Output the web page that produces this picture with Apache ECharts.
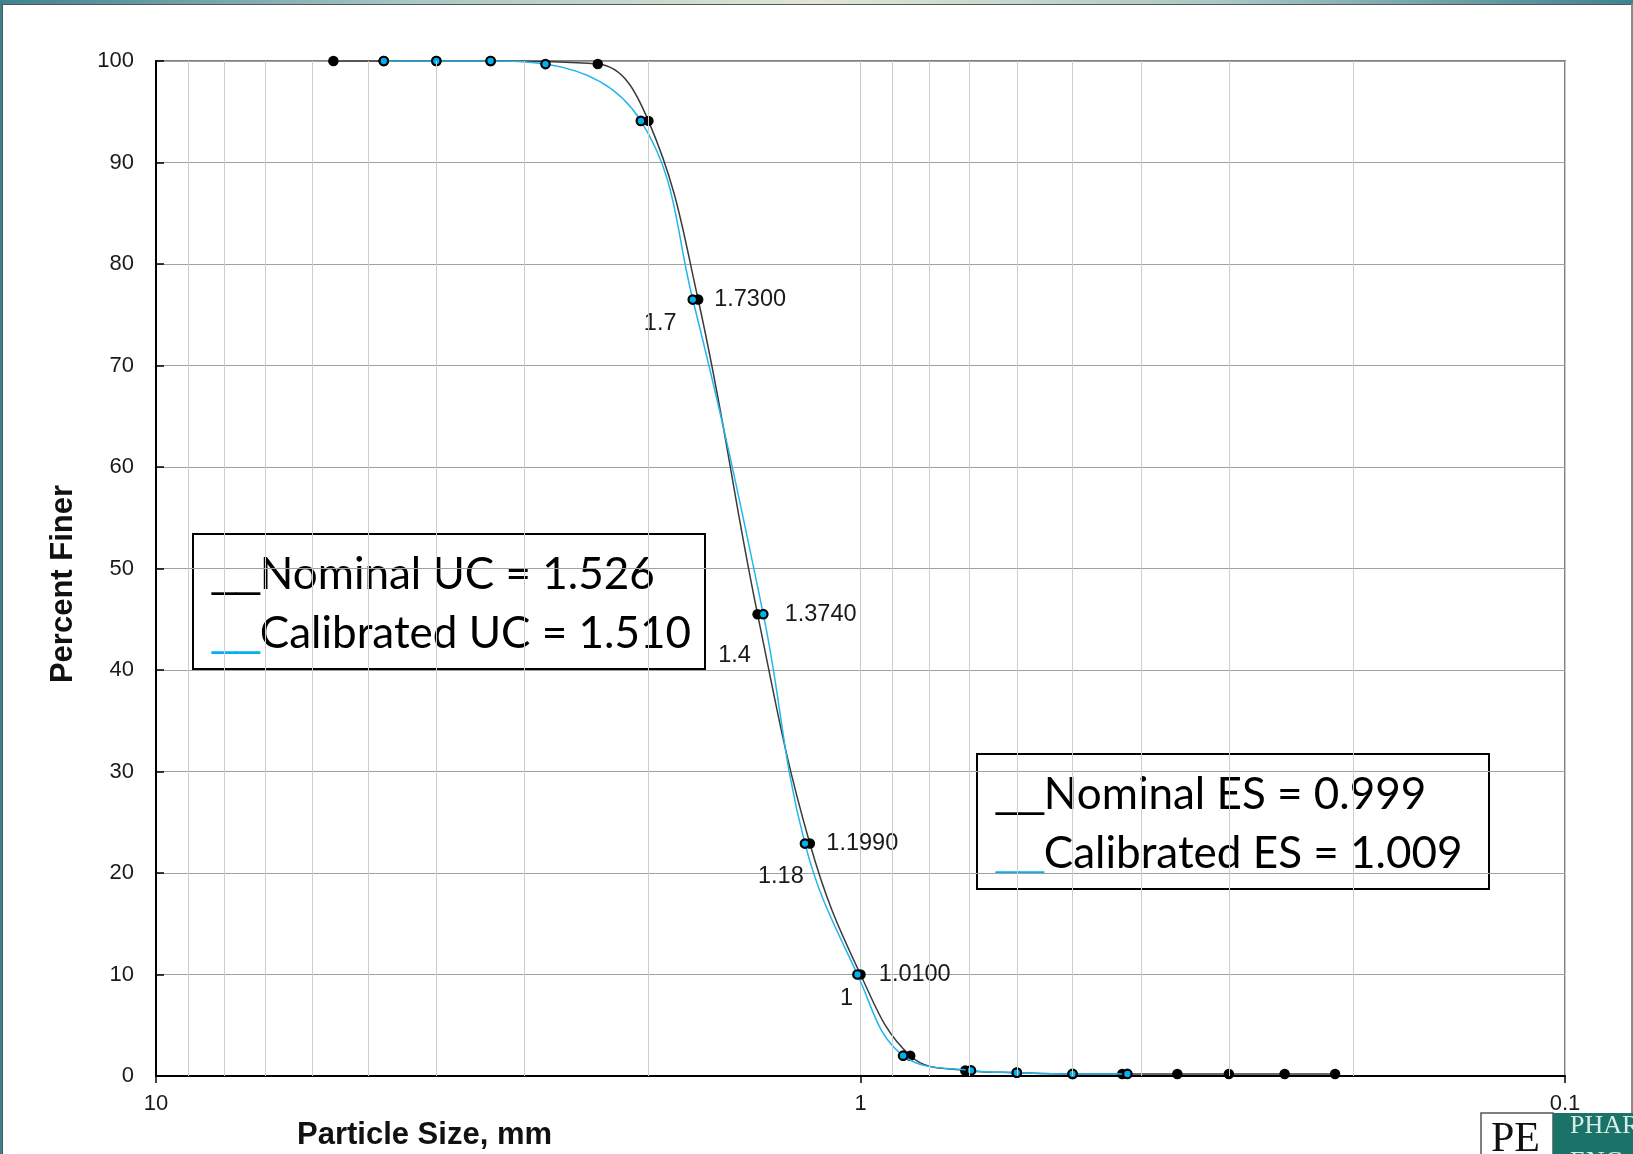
<!DOCTYPE html>
<html>
<head>
<meta charset="utf-8">
<script src="https://cdn.jsdelivr.net/npm/echarts@6/dist/echarts.min.js"></script>
<style>
html,body{margin:0;padding:0;background:#fff;}
#chart{width:1633px;height:1154px;}
</style>
</head>
<body>
<div id="chart"></div>
<script>
// ---- data ----
const nominalSize   = [5.6, 4.75, 4.0, 3.35, 2.36, 2.0, 1.7, 1.4, 1.18, 1.0, 0.85, 0.71, 0.6, 0.5, 0.425, 0.355, 0.3, 0.25, 0.212];
const nominalFiner  = [100, 100, 100, 100, 99.7, 94.1, 76.5, 45.5, 22.9, 10.0, 2.0, 0.55, 0.33, 0.2, 0.2, 0.2, 0.2, 0.2, 0.2];
const calibratedSize  = [4.75, 4.0, 3.35, 2.8, 2.05, 1.73, 1.374, 1.199, 1.01, 0.87, 0.697, 0.6, 0.5, 0.418];
const calibratedFiner = [100, 100, 100, 99.7, 94.1, 76.5, 45.5, 22.9, 10.0, 2.0, 0.55, 0.33, 0.2, 0.2];
const labeledNominal    = [1.7, 1.4, 1.18, 1.0];
const labeledCalibrated = [1.73, 1.374, 1.199, 1.01];
const xTickLabels = ['10', '1', '0.1'];
const yTickValues = [0, 10, 20, 30, 40, 50, 60, 70, 80, 90, 100];
const minorGridSizes = [9, 8, 7, 6, 5, 4, 3, 2, 0.9, 0.8, 0.7, 0.6, 0.5, 0.4, 0.3, 0.2];
const legendUC = ['Nominal UC = 1.526', 'Calibrated UC = 1.510'];
const legendES = ['Nominal ES = 0.999', 'Calibrated ES = 1.009'];
const xAxisTitle = 'Particle Size, mm';
const yAxisTitle = 'Percent Finer';

// ---- layout / style (not data) ----
const nominalLabelOffsets = [[-38, 24], [-23, 41], [-29, 33], [-14, 24]];
const BLUE = '#00b0f0';
const TXT = '#1a1a1a';
const SANS = 'Liberation Sans, Arial, sans-serif';

const chart = echarts.init(document.getElementById('chart'), null, {renderer: 'canvas'});

const nominalData = nominalSize.map((s, i) => {
  const item = {value: [s, nominalFiner[i]]};
  const k = labeledNominal.indexOf(s);
  if (k >= 0) {
    item.label = {show: true, position: 'inside', offset: nominalLabelOffsets[k]};
  }
  return item;
});
const calibratedData = calibratedSize.map((s, i) => {
  const item = {value: [s, calibratedFiner[i]]};
  if (labeledCalibrated.indexOf(s) >= 0) {
    item.label = {show: true, position: 'right', distance: 16};
  }
  return item;
});

function legendBox(x, y, lines) {
  const rich = {
    k: {fill: '#000', fontSize: 43, fontFamily: 'Liberation Sans'},
    c: {fill: BLUE, fontSize: 43, fontFamily: 'Liberation Sans'},
    t: {fill: '#000', fontSize: 44, fontFamily: 'Lato'}
  };
  return {
    type: 'group', x: x, y: y, z: 50,
    children: [
      {type: 'rect', shape: {x: 0, y: 0, width: 512, height: 135},
       style: {fill: '#fff', stroke: '#000', lineWidth: 2}},
      {type: 'text', x: 19, y: 41,
       style: {text: '{k|__}{t|' + lines[0] + '}', rich: rich, fill: '#000', fontSize: 44, fontFamily: 'Lato', verticalAlign: 'middle'}},
      {type: 'text', x: 19, y: 100,
       style: {text: '{c|__}{t|' + lines[1] + '}', rich: rich, fill: '#000', fontSize: 44, fontFamily: 'Lato', verticalAlign: 'middle'}}
    ]
  };
}

const option = {
  backgroundColor: '#ffffff',
  animation: false,
  grid: {left: 156, right: 68, top: 61, bottom: 78, show: true, borderColor: '#808080', borderWidth: 2,
         backgroundColor: 'transparent', containLabel: false, outerBoundsMode: 'none'},
  xAxis: {
    type: 'log', logBase: 10, min: 0.1, max: 10, inverse: true,
    name: xAxisTitle, nameLocation: 'middle', nameGap: 19,
    nameTextStyle: {fontSize: 31, fontWeight: 'bold', color: '#111', fontFamily: SANS, padding: [0, 872, 0, 0]},
    axisLine: {show: true, onZero: false, lineStyle: {color: '#000', width: 2}},
    axisTick: {show: true, inside: false, length: 7, lineStyle: {color: '#000', width: 1.5}},
    axisLabel: {show: true, margin: 17, fontSize: 22, color: TXT, fontFamily: SANS,
                formatter: function (v) { const e = Math.round(Math.log10(v)); return xTickLabels[1 - e]; }},
    splitLine: {show: true, lineStyle: {color: '#c8c8c8', width: 1}},
    minorTick: {show: false}, minorSplitLine: {show: false}
  },
  yAxis: {
    type: 'value', min: 0, max: 100, interval: 10,
    name: yAxisTitle, nameLocation: 'middle', nameGap: 77,
    nameTextStyle: {fontSize: 31, fontWeight: 'bold', color: '#111', fontFamily: SANS, padding: [0, 31, 0, 0]},
    axisLine: {show: true, lineStyle: {color: '#000', width: 2}},
    axisTick: {show: true, inside: true, length: 8, lineStyle: {color: '#000', width: 1.5}},
    axisLabel: {show: true, margin: 22, fontSize: 22, color: TXT, fontFamily: SANS,
                formatter: function (v) { return yTickValues.indexOf(v) >= 0 ? String(v) : ''; }},
    splitLine: {show: true, lineStyle: {color: '#a0a0a0', width: 1.2}}
  },
  series: [
    {
      name: 'minor grid', type: 'line', data: [], z: 1, silent: true,
      markLine: {
        silent: true, animation: false, symbol: ['none', 'none'],
        label: {show: false},
        lineStyle: {color: '#cdcdcd', width: 1, type: 'solid'},
        emphasis: {disabled: true},
        data: minorGridSizes.map(v => ({xAxis: v}))
      }
    },
    {
      name: 'Nominal', type: 'line', smooth: 0.4, z: 3,
      data: nominalData,
      symbol: 'circle', symbolSize: 10.5, showAllSymbol: true,
      itemStyle: {color: '#000'},
      lineStyle: {color: '#3a3a3a', width: 1.5},
      label: {show: false, fontSize: 23.5, color: TXT, fontFamily: SANS,
              formatter: p => String(p.value[0])},
      emphasis: {disabled: true}
    },
    {
      name: 'Calibrated', type: 'line', smooth: 0.4, z: 4,
      data: calibratedData,
      symbol: 'circle', symbolSize: 8.5, showAllSymbol: true,
      itemStyle: {color: BLUE, borderColor: '#000', borderWidth: 2.2},
      lineStyle: {color: '#22b6ef', width: 1.5},
      label: {show: false, fontSize: 23.5, color: TXT, fontFamily: SANS,
              formatter: p => p.value[0].toFixed(4)},
      emphasis: {disabled: true}
    }
  ],
  graphic: [
    // window frame
    {type: 'rect', x: 0, y: 0, z: 100, silent: true, shape: {width: 1633, height: 4},
     style: {fill: new echarts.graphic.LinearGradient(0, 0, 1, 0, [
       {offset: 0, color: '#3f8290'}, {offset: 0.25, color: '#a9c7c4'}, {offset: 0.5, color: '#e0e6d6'},
       {offset: 0.75, color: '#a9c7c4'}, {offset: 1, color: '#3f8290'}])}},
    {type: 'rect', x: 0, y: 4, z: 100, silent: true, shape: {width: 1633, height: 1}, style: {fill: '#555'}},
    {type: 'rect', x: 0, y: 0, z: 100, silent: true, shape: {width: 2, height: 1154}, style: {fill: '#3d7f8c'}},
    {type: 'rect', x: 2, y: 4, z: 100, silent: true, shape: {width: 1, height: 1150}, style: {fill: '#555'}},
    {type: 'rect', x: 1631, y: 4, z: 100, silent: true, shape: {width: 2, height: 1150}, style: {fill: '#8a8a8a'}},
    // logo
    {type: 'rect', x: 1481, y: 1113, z: 100, silent: true, shape: {width: 72, height: 45},
     style: {fill: '#fff', stroke: '#555', lineWidth: 1.5}},
    {type: 'text', x: 1491, y: 1119, z: 101, silent: true,
     style: {text: 'PE', fill: '#111', fontSize: 42, fontFamily: 'Liberation Serif', verticalAlign: 'top'}},
    {type: 'rect', x: 1553, y: 1113, z: 100, silent: true, shape: {width: 80, height: 41}, style: {fill: '#1b7268'}},
    {type: 'text', x: 1570, y: 1139, z: 101, silent: true,
     style: {text: 'PHAR', fill: '#d8ece6', fontSize: 26, fontFamily: 'Liberation Serif', verticalAlign: 'bottom'}},
    {type: 'text', x: 1570, y: 1149, z: 101, silent: true,
     style: {text: 'ENG', fill: '#d8ece6', fontSize: 26, fontFamily: 'Liberation Serif', verticalAlign: 'top'}},
    // annotation boxes
    legendBox(193, 534, legendUC),
    legendBox(977, 754, legendES)
  ]
};
chart.setOption(option);
</script>
</body>
</html>
